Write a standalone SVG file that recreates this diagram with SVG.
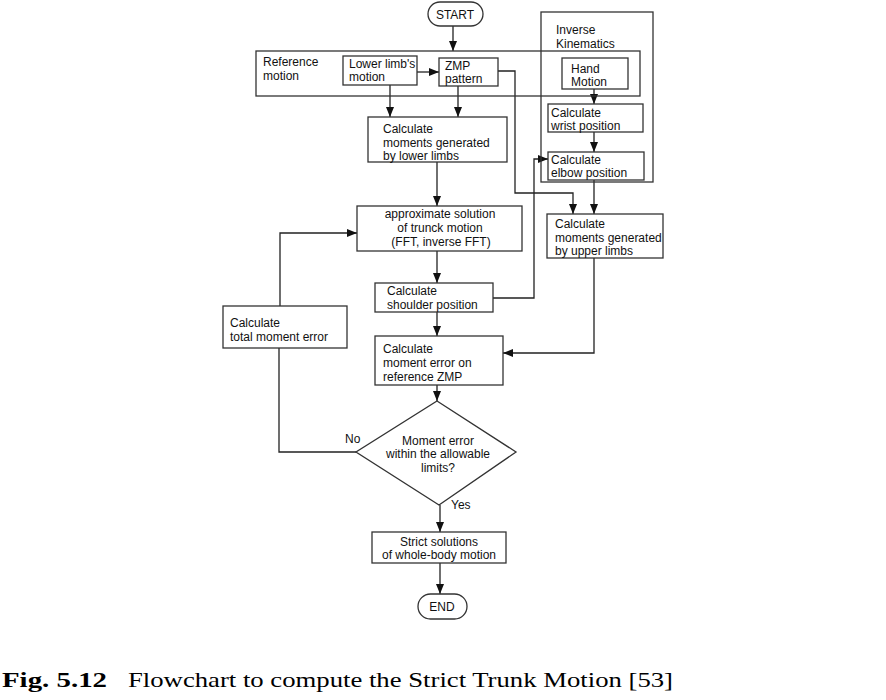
<svg xmlns="http://www.w3.org/2000/svg" width="886" height="700" viewBox="0 0 886 700">
<defs>
<style>
.b{fill:none;stroke:#333;stroke-width:1.3}
.c{fill:none;stroke:#222;stroke-width:1.3;marker-end:url(#ah)}
.n{fill:none;stroke:#222;stroke-width:1.3}
text{font-family:"Liberation Sans",Arial,sans-serif;font-size:12px;fill:#111}
.m{text-anchor:middle}
.cap{font-family:"Liberation Serif","Times New Roman",serif;font-size:21px;fill:#000}
</style>
<marker id="ah" markerUnits="userSpaceOnUse" markerWidth="10" markerHeight="8" refX="10" refY="4" orient="auto">
<path d="M0,0 L10,4 L0,8 z" fill="#111"/>
</marker>
</defs>
<rect width="886" height="700" fill="#fff"/>
<g id="connectors">
<line class="c" x1="453" y1="26" x2="453" y2="51"/>
<line class="c" x1="417" y1="72" x2="439" y2="72"/>
<line class="c" x1="390" y1="85" x2="390" y2="117"/>
<line class="c" x1="458" y1="86" x2="458" y2="117"/>
<polyline class="c" points="498,71 515,71 515,193 573,193 573,214"/>
<line class="c" x1="594" y1="89" x2="594" y2="104"/>
<line class="c" x1="594" y1="132" x2="594" y2="152"/>
<line class="c" x1="594" y1="180" x2="594" y2="214"/>
<line class="c" x1="437" y1="162" x2="437" y2="206"/>
<line class="c" x1="437" y1="251" x2="437" y2="283"/>
<polyline class="c" points="493,298 534,298 534,159 548,159"/>
<line class="c" x1="437" y1="312" x2="437" y2="336"/>
<polyline class="c" points="594,258 594,353 503,353"/>
<line class="c" x1="437" y1="385" x2="437" y2="401"/>
<polyline class="n" points="356,452 279,452 279,348"/>
<polyline class="c" points="280,306 280,233 357,233"/>
<line class="c" x1="440" y1="505" x2="440" y2="532"/>
<line class="c" x1="440" y1="563" x2="440" y2="594"/>
</g>
<g id="start"><rect class="b" x="428" y="2" width="55" height="24" rx="12"/><text class="m" x="455" y="19">START</text></g>
<g id="reference-motion"><rect class="b" x="256" y="51" width="384" height="45"/><text x="263" y="66">Reference</text><text x="263" y="80">motion</text></g>
<g id="inverse-kinematics"><rect class="b" x="541" y="12" width="112" height="170"/><text x="556" y="34">Inverse</text><text x="556" y="48">Kinematics</text></g>
<g id="lower-limb-motion"><rect class="b" x="343" y="56" width="74" height="29"/><text x="349" y="68">Lower limb's</text><text x="349" y="81">motion</text></g>
<g id="zmp-pattern"><rect class="b" x="439" y="58" width="59" height="28"/><text x="445" y="70">ZMP</text><text x="445" y="83">pattern</text></g>
<g id="hand-motion"><rect class="b" x="562" y="58" width="66" height="31"/><text x="571" y="73">Hand</text><text x="571" y="86">Motion</text></g>
<g id="wrist"><rect class="b" x="548" y="104" width="95" height="28"/><text x="551" y="117">Calculate</text><text x="551" y="130">wrist position</text></g>
<g id="elbow"><rect class="b" x="548" y="152" width="96" height="28"/><text x="551" y="164">Calculate</text><text x="551" y="177">elbow position</text></g>
<g id="lower-moments"><rect class="b" x="368" y="117" width="139" height="45"/><text x="383" y="133">Calculate</text><text x="383" y="147">moments generated</text><text x="383" y="160">by lower limbs</text></g>
<g id="approximate"><rect class="b" x="357" y="206" width="165" height="45"/><text class="m" x="440" y="218">approximate solution</text><text class="m" x="440" y="232">of trunck motion</text><text class="m" x="441" y="246">(FFT, inverse FFT)</text></g>
<g id="upper-moments"><rect class="b" x="547" y="214" width="116" height="44"/><text x="555" y="228">Calculate</text><text x="555" y="242">moments generated</text><text x="555" y="255">by upper limbs</text></g>
<g id="shoulder"><rect class="b" x="375" y="283" width="118" height="29"/><text x="387" y="295">Calculate</text><text x="387" y="309">shoulder position</text></g>
<g id="total-error"><rect class="b" x="223" y="306" width="124" height="42"/><text x="230" y="327">Calculate</text><text x="230" y="341">total moment error</text></g>
<g id="moment-error"><rect class="b" x="375" y="336" width="128" height="49"/><text x="383" y="353">Calculate</text><text x="383" y="367">moment error on</text><text x="383" y="381">reference ZMP</text></g>
<g id="decision"><polygon class="b" points="437,401 516,452 439,505 356,452"/><text class="m" x="438" y="445">Moment error</text><text class="m" x="438" y="458">within the allowable</text><text class="m" x="438" y="472">limits?</text></g>
<text x="345" y="443">No</text>
<text x="451" y="509">Yes</text>
<g id="strict"><rect class="b" x="372" y="532" width="134" height="31"/><text class="m" x="439" y="546">Strict solutions</text><text class="m" x="439" y="559">of whole-body motion</text></g>
<g id="end"><rect class="b" x="418" y="594" width="49" height="25" rx="12.5"/><text class="m" x="442" y="611">END</text></g>
<text class="cap" x="2" y="687" font-weight="bold" textLength="105" lengthAdjust="spacingAndGlyphs">Fig. 5.12</text>
<text class="cap" x="128" y="687" textLength="545" lengthAdjust="spacingAndGlyphs">Flowchart to compute the Strict Trunk Motion [53]</text>
</svg>
